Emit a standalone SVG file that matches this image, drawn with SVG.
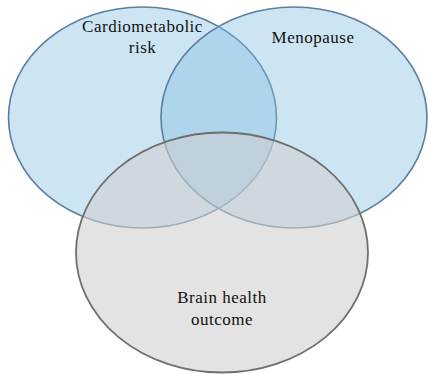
<svg xmlns="http://www.w3.org/2000/svg" width="428" height="374" viewBox="0 0 428 374">
<style>
.blue{fill:rgb(130,190,225);fill-opacity:0.4;stroke:#5a7fa0;stroke-width:1.6}
.grey{fill:#cfcfcf;fill-opacity:0.58;stroke:#6e6e6e;stroke-width:1.8}
text{font-family:"Liberation Serif","Times New Roman",serif;font-size:17px;fill:#111;text-anchor:middle;letter-spacing:0.5px}
</style>
<rect width="428" height="374" fill="#fff"/>
<g id="cardiometabolic">
<ellipse class="blue" cx="142.5" cy="117.5" rx="134" ry="110.5"/>
</g>
<g id="menopause">
<ellipse class="blue" cx="294" cy="117.5" rx="133" ry="110.5"/>
</g>
<g id="brain">
<ellipse class="grey" cx="222" cy="252.5" rx="146" ry="120"/>
</g>
<g id="connectors"></g>
<g id="labels">
<text x="142.5" y="31.5">Cardiometabolic</text>
<text x="142.5" y="53">risk</text>
<text x="313" y="43">Menopause</text>
<text x="222" y="302.5">Brain health</text>
<text x="222" y="324.5">outcome</text>
</g>
</svg>
